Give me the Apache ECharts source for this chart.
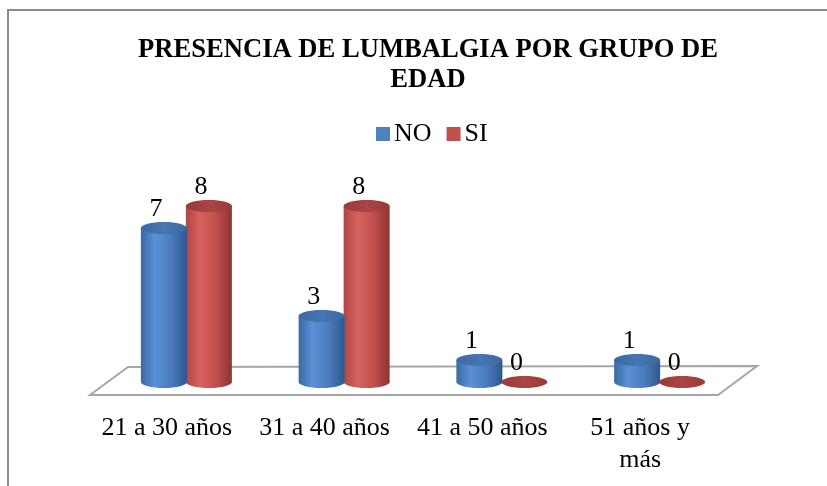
<!DOCTYPE html>
<html>
<head>
<meta charset="utf-8">
<script src="https://cdn.jsdelivr.net/npm/echarts@6/dist/echarts.min.js"></script>
<style>html,body{margin:0;padding:0;background:#fff;}#c{width:827px;height:486px;}</style>
</head>
<body>
<div id="c"></div>
<script>
var titleText = 'PRESENCIA DE LUMBALGIA POR GRUPO DE\nEDAD';
var categories = ['21 a 30 años', '31 a 40 años', '41 a 50 años', '51 años y\nmás'];
var seriesNames = ['NO', 'SI'];
var valuesNO = [7, 3, 1, 1];
var valuesSI = [8, 8, 0, 0];

var FONT = '"Liberation Serif", "Times New Roman", serif';
var palettes = [
  { legend: '#4f81bd',
    body: [[0, '#3a69a4'], [0.3, '#5a90d5'], [0.65, '#4b7dbb'], [1, '#2d5890']],
    top: [[0, '#3a68a1'], [0.5, '#4676b3'], [1, '#3a69a3']] },
  { legend: '#c0504d',
    body: [[0, '#b04442'], [0.3, '#d6625e'], [0.65, '#c1504d'], [1, '#8c3331']],
    top: [[0, '#98393a'], [0.5, '#ab4542'], [1, '#983a37']] }
];

function grad(stops) {
  return new echarts.graphic.LinearGradient(0, 0, 1, 0, stops.map(function (s) { return { offset: s[0], color: s[1] }; }));
}

function makeRender(idx) {
  var off = idx === 0 ? -22 : 23;
  var pal = palettes[idx];
  return function (params, api) {
    var cat = api.value(0), val = api.value(1);
    var top = api.coord([cat, val]);
    var base = api.coord([cat, 0]);
    var cx = top[0] + off;
    var hw = 23, ry = 6;
    var children = [];
    if (val > 0) {
      children.push({ type: 'ellipse', shape: { cx: cx, cy: base[1], rx: hw, ry: ry }, style: { fill: grad(pal.body) } });
      children.push({ type: 'rect', shape: { x: cx - hw, y: top[1], width: hw * 2, height: base[1] - top[1] }, style: { fill: grad(pal.body) } });
    }
    children.push({ type: 'ellipse', shape: { cx: cx, cy: top[1], rx: hw, ry: ry }, style: { fill: grad(pal.top) } });
    children.push({ type: 'text', style: { text: String(val), x: cx - 8, y: top[1] - 19, align: 'center', verticalAlign: 'middle', font: '26px ' + FONT, fill: '#000' } });
    return { type: 'group', children: children };
  };
}

var chart = echarts.init(document.getElementById('c'));
chart.setOption({
  backgroundColor: '#fff',
  animation: false,
  title: {
    text: titleText, left: 423, top: 30, textAlign: 'center',
    textStyle: { fontFamily: FONT, fontWeight: 'bold', fontSize: 26.6, lineHeight: 30, color: '#000' }
  },
  legend: {
    data: seriesNames, left: 371, top: 116, itemWidth: 14, itemHeight: 14, itemGap: 15,
    icon: 'rect',
    textStyle: { fontFamily: FONT, fontSize: 26, lineHeight: 26, color: '#000', padding: [0, 0, 0, -1] }
  },
  graphic: [
    { type: 'rect', shape: { x: 8, y: 10, width: 900, height: 600 }, style: { fill: 'none', stroke: '#8c8c8c', lineWidth: 2 }, z: 0 },
    { type: 'polygon', shape: { points: [[90, 395], [128, 367], [757, 366], [718, 395]] }, style: { fill: '#fff', stroke: '#a6a6a6', lineWidth: 2 }, z: 0 }
  ],
  grid: [
    { left: 107, right: 89, top: 206, bottom: 104 },
    { left: 88, right: 108, top: 206, bottom: 86 }
  ],
  xAxis: [
    { type: 'category', data: categories, gridIndex: 0, show: false },
    { type: 'category', data: categories, gridIndex: 1, axisLine: { show: false }, axisTick: { show: false },
      axisLabel: { interval: 0, margin: 12, fontFamily: FONT, fontSize: 26, lineHeight: 32, color: '#000' } }
  ],
  yAxis: [
    { type: 'value', min: 0, max: 8, gridIndex: 0, show: false },
    { type: 'value', min: 0, max: 8, gridIndex: 1, show: false }
  ],
  series: [
    { name: 'NO', type: 'custom', itemStyle: { color: palettes[0].legend }, renderItem: makeRender(0), z: 5,
      encode: { x: 0, y: 1 }, data: valuesNO.map(function (v, i) { return [i, v]; }) },
    { name: 'SI', type: 'custom', itemStyle: { color: palettes[1].legend }, renderItem: makeRender(1), z: 4,
      encode: { x: 0, y: 1 }, data: valuesSI.map(function (v, i) { return [i, v]; }) }
  ]
});
</script>
</body>
</html>
